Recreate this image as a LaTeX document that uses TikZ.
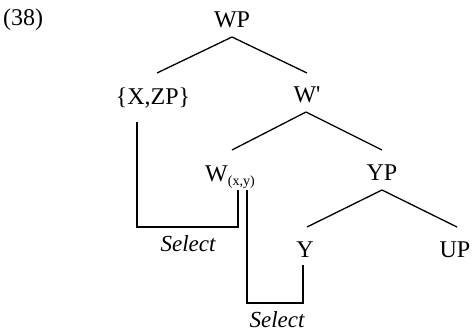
\documentclass[tikz,border=0pt]{standalone}
\usepackage{fontspec}
\setmainfont{Liberation Serif}
\usetikzlibrary{calc}
\begin{document}
\begin{tikzpicture}[x=1pt,y=-1pt,
  lab/.style={anchor=base,inner sep=0pt,font=\fontsize{24}{26}\selectfont},
  sel/.style={anchor=base,inner sep=0pt,font=\fontsize{23}{25}\selectfont\itshape},
  edge/.style={line width=1.3pt}]
\useasboundingbox (0,0) rectangle (473,332);
\node[lab,anchor=base west] (n38) at (3,25) {(38)};
\node[lab] (WP) at (232,27) {WP};
\node[lab] (XZP) at (153,104) {\{X,ZP\}};
\node[lab] (Wb) at (307,102) {W\textquotesingle};
\node[lab,anchor=base west] (Wxy) at (205,181) {W\raisebox{-4pt}{\fontsize{14}{14}\selectfont(x,y)}};
\node[lab] (YP) at (382,180) {YP};
\node[lab] (Y) at (305,257) {Y};
\node[lab] (UP) at (455,257) {UP};
\node[sel] (sel1) at (188,251) {Select};
\node[sel] (sel2) at (277,327) {Select};
% tree edges
\draw[edge] ($(WP.base)+(0,10)$) -- ($(XZP.base)+(4,-31)$);
\draw[edge] ($(WP.base)+(0,10)$) -- ($(Wb.base)+(0,-29)$);
\draw[edge] ($(Wb.base)+(-1,10)$) -- ($(Wxy.base west)+(27,-31)$);
\draw[edge] ($(Wb.base)+(-1,10)$) -- ($(YP.base)+(0,-30)$);
\draw[edge] ($(YP.base)+(0,10)$) -- ($(Y.base)+(2,-30)$);
\draw[edge] ($(YP.base)+(0,10)$) -- ($(UP.base)+(2,-30)$);
% select brackets
\coordinate (s1a) at ($(XZP.base)+(-16,18)$);
\coordinate (s1b) at ($(Wxy.base west)+(33,9)$);
\draw[edge] (s1a) |- ($(s1b)+(0,37)$) -- (s1b);
\coordinate (s2a) at ($(Wxy.base west)+(42,9)$);
\coordinate (s2b) at ($(Y.base)+(-2,8)$);
\draw[edge] (s2a) |- ($(s2b)+(0,38)$) -- (s2b);
\end{tikzpicture}
\end{document}
